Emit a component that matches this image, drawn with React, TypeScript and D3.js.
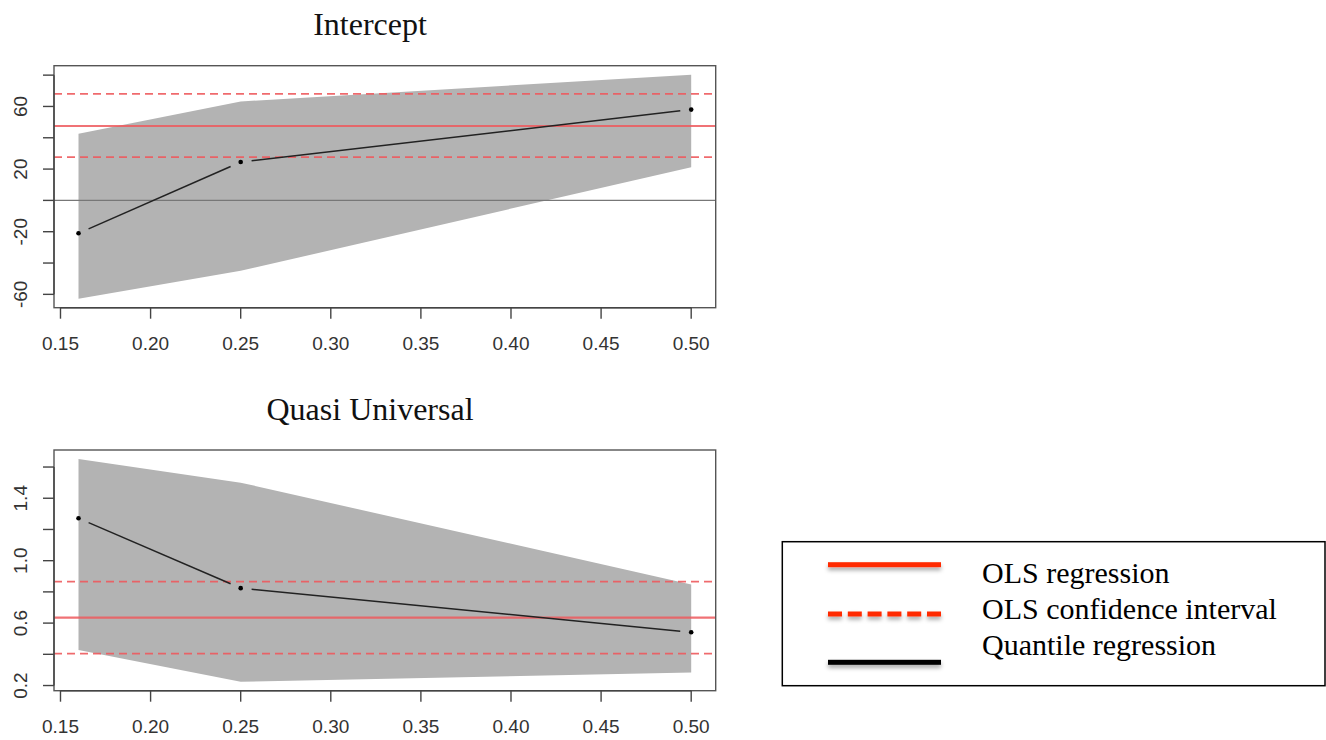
import React from "react";
import * as d3 from "d3";

const quantiles = [0.16, 0.25, 0.5];

const interceptCoef = [-21, 24.5, 58];
const interceptLower = [-62.8, -45, 21.2];
const interceptUpper = [42.5, 63.2, 80.3];
const interceptOls = 47.5;
const interceptOlsCI = [27.6, 68];

const quasiCoef = [1.272, 0.824, 0.541];
const quasiLower = [0.427, 0.224, 0.283];
const quasiUpper = [1.652, 1.5, 0.847];
const quasiOls = 0.635;
const quasiOlsCI = [0.404, 0.866];

const xTicks = [0.15, 0.2, 0.25, 0.3, 0.35, 0.4, 0.45, 0.5];
const interceptYTicks = [-60, -40, -20, 0, 20, 40, 60, 80];
const interceptYLabels = [-60, -20, 20, 60];
const quasiYTicks = [0.2, 0.4, 0.6, 0.8, 1.0, 1.2, 1.4, 1.6];
const quasiYLabels = [0.2, 0.6, 1.0, 1.4];

const legendItems = ["OLS regression", "OLS confidence interval", "Quantile regression"];

const RED = "#ee5a5e";
const AXIS_FONT = "'Liberation Sans', Arial, sans-serif";
const SERIF = "'Liberation Serif', 'Times New Roman', serif";

type PanelProps = {
  title: string;
  top: number;
  bottom: number;
  coef: number[];
  lower: number[];
  upper: number[];
  ols: number;
  olsCI: number[];
  yTicks: number[];
  yLabels: number[];
  yFmt: (v: number) => string;
  zeroLine: boolean;
  titleY: number;
};

function Panel(p: PanelProps) {
  const left = 54;
  const right = 715.7;
  const xExt = d3.extent(quantiles) as [number, number];
  const xPad = (xExt[1] - xExt[0]) * 0.04;
  const x = d3.scaleLinear().domain([xExt[0] - xPad, xExt[1] + xPad]).range([left, right]);
  const all = [...p.lower, ...p.upper];
  const yExt = d3.extent(all) as [number, number];
  const yPad = (yExt[1] - yExt[0]) * 0.04;
  const y = d3.scaleLinear().domain([yExt[0] - yPad, yExt[1] + yPad]).range([p.bottom, p.top]);

  const band = d3
    .area<number>()
    .x((_, i) => x(quantiles[i]))
    .y0((_, i) => y(p.lower[i]))
    .y1((_, i) => y(p.upper[i]));

  const pts = quantiles.map((q, i) => [x(q), y(p.coef[i])] as [number, number]);
  const gap = 11;
  const segs = pts.slice(1).map((b, i) => {
    const a = pts[i];
    const dx = b[0] - a[0];
    const dy = b[1] - a[1];
    const len = Math.hypot(dx, dy);
    const ux = dx / len;
    const uy = dy / len;
    return [a[0] + ux * gap, a[1] + uy * gap, b[0] - ux * gap, b[1] - uy * gap];
  });

  const tickLen = 11;
  return (
    <g>
      <text x={370} y={p.titleY} textAnchor="middle" fontFamily={SERIF} fontSize={32} fill="#111">
        {p.title}
      </text>
      <path d={band(quantiles.map((_, i) => i)) || ""} fill="#b3b3b3" />
      {p.zeroLine && (
        <line x1={left} x2={right} y1={y(0)} y2={y(0)} stroke="#777" strokeWidth={1.3} />
      )}
      <line x1={left} x2={right} y1={y(p.ols)} y2={y(p.ols)} stroke={RED} strokeWidth={2.2} opacity={0.85} />
      {p.olsCI.map((v, i) => (
        <line key={i} x1={left} x2={right} y1={y(v)} y2={y(v)} stroke={RED} strokeWidth={1.7} strokeDasharray="8 5" opacity={0.9} />
      ))}
      {segs.map((s, i) => (
        <line key={i} x1={s[0]} y1={s[1]} x2={s[2]} y2={s[3]} stroke="#222" strokeWidth={1.5} />
      ))}
      {pts.map((pt, i) => (
        <circle key={i} cx={pt[0]} cy={pt[1]} r={2.3} fill="#000" />
      ))}
      <rect x={left} y={p.top} width={right - left} height={p.bottom - p.top} fill="none" stroke="#555" strokeWidth={1.4} />
      <line x1={x(xTicks[0])} x2={x(xTicks[xTicks.length - 1])} y1={p.bottom} y2={p.bottom} stroke="#444" strokeWidth={1.4} />
      {xTicks.map((t) => (
        <g key={t}>
          <line x1={x(t)} x2={x(t)} y1={p.bottom} y2={p.bottom + tickLen} stroke="#444" strokeWidth={1.4} />
          <text x={x(t)} y={p.bottom + 42} textAnchor="middle" fontFamily={AXIS_FONT} fontSize={19} fill="#333">
            {d3.format(".2f")(t)}
          </text>
        </g>
      ))}
      <line x1={left} x2={left} y1={y(p.yTicks[0])} y2={y(p.yTicks[p.yTicks.length - 1])} stroke="#444" strokeWidth={1.4} />
      {p.yTicks.map((t) => (
        <line key={t} x1={left - tickLen} x2={left} y1={y(t)} y2={y(t)} stroke="#444" strokeWidth={1.4} />
      ))}
      {p.yLabels.map((t) => (
        <text
          key={t}
          transform={`translate(27,${y(t)}) rotate(-90)`}
          textAnchor="middle"
          fontFamily={AXIS_FONT}
          fontSize={19}
          fill="#333"
        >
          {p.yFmt(t)}
        </text>
      ))}
    </g>
  );
}

export default function App() {
  const legendLineX1 = 828;
  const legendLineX2 = 941;
  const legendLineY = [564.7, 614, 662.3];
  const legendTextY = [583, 619, 655];
  const dashLen = 14;
  const dashGap = 5.8;
  const dashes = d3.range(6).map((i) => legendLineX1 + i * (dashLen + dashGap));
  return (
    <svg width={1326} height={740} style={{ position: "absolute", left: 0, top: 0, background: "#fff" }}>
      <defs>
        <filter id="shadow" filterUnits="userSpaceOnUse" x={780} y={540} width={546} height={150}>
          <feDropShadow dx={0} dy={3} stdDeviation={2} floodColor="#000" floodOpacity={0.35} />
        </filter>
      </defs>
      <rect width={1326} height={740} fill="#fff" />
      <Panel
        title="Intercept"
        titleY={35}
        top={65.7}
        bottom={307.7}
        coef={interceptCoef}
        lower={interceptLower}
        upper={interceptUpper}
        ols={interceptOls}
        olsCI={interceptOlsCI}
        yTicks={interceptYTicks}
        yLabels={interceptYLabels}
        yFmt={(v) => d3.format("d")(v).replace("−", "-")}
        zeroLine={true}
      />
      <Panel
        title="Quasi Universal"
        titleY={420}
        top={450}
        bottom={690.7}
        coef={quasiCoef}
        lower={quasiLower}
        upper={quasiUpper}
        ols={quasiOls}
        olsCI={quasiOlsCI}
        yTicks={quasiYTicks}
        yLabels={quasiYLabels}
        yFmt={(v) => d3.format(".1f")(v)}
        zeroLine={false}
      />
      <rect x={782.3} y={541.7} width={1325 - 782.3} height={144} fill="#fff" stroke="#000" strokeWidth={1.5} />
      <g filter="url(#shadow)">
        <rect x={legendLineX1} y={legendLineY[0] - 2.5} width={legendLineX2 - legendLineX1} height={5} fill="#ff2a00" />
        {dashes.map((dx) => (
          <rect key={dx} x={dx} y={legendLineY[1] - 2.5} width={dashLen} height={5} fill="#ff2a00" />
        ))}
        <rect x={legendLineX1} y={legendLineY[2] - 2.5} width={legendLineX2 - legendLineX1} height={5} fill="#000" />
      </g>
      {legendItems.map((t, i) => (
        <text key={t} x={982} y={legendTextY[i]} fontFamily={SERIF} fontSize={30} fill="#000">
          {t}
        </text>
      ))}
    </svg>
  );
}
